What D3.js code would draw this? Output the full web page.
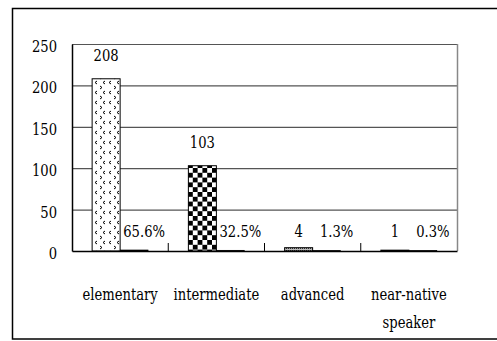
<!DOCTYPE html>
<html><head><meta charset="utf-8">
<script src="https://cdn.jsdelivr.net/npm/d3@7"></script>
<style>
html,body{margin:0;padding:0;background:#fff;}
</style></head>
<body><svg id="c" width="497" height="341"></svg>
<script>
const categories = ["elementary", "intermediate", "advanced", "near-native speaker"];
const counts = [208, 103, 4, 1];
const percents = [65.6, 32.5, 1.3, 0.3];
const yTicks = [0, 50, 100, 150, 200, 250];

const FONT = "'DejaVu Serif Condensed', 'DejaVu Serif', serif";
const FS = "17px";
const SX = 0.86;
const svg = d3.select("#c");
const W = 497, H = 341;
const m = {left: 72, top: 44, right: 457, bottom: 251};

// narrow serif text helper
function ntext(sel, xf, yf, anchor) {
  return sel.attr("transform", (d,i)=>`translate(${xf(d,i)},${yf(d,i)}) scale(${SX},1)`)
    .attr("text-anchor", anchor)
    .style("font-size", FS).style("font-family", FONT).attr("fill","#000");
}

const defs = svg.append("defs");
const p1 = defs.append("pattern").attr("id","chev").attr("patternUnits","userSpaceOnUse")
  .attr("width",14).attr("height",10).attr("x",92).attr("y",0);
p1.append("rect").attr("width",14).attr("height",10).attr("fill","#fff");
p1.append("path").attr("d","M5,1 L3,2.5 L5,4 M13,1 L11,2.5 L13,4").attr("stroke","#000").attr("stroke-width",1).attr("fill","none");
p1.append("path").attr("d","M8,6 L10,7.5 L8,9").attr("stroke","#000").attr("stroke-width",1).attr("fill","none");
const p2 = defs.append("pattern").attr("id","check").attr("patternUnits","userSpaceOnUse")
  .attr("width",9.6).attr("height",9.6).attr("x",188).attr("y",0);
p2.append("rect").attr("width",9.6).attr("height",9.6).attr("fill","#fff");
p2.append("rect").attr("width",4.8).attr("height",4.8).attr("fill","#000");
p2.append("rect").attr("x",4.8).attr("y",4.8).attr("width",4.8).attr("height",4.8).attr("fill","#000");
const p3 = defs.append("pattern").attr("id","dots").attr("patternUnits","userSpaceOnUse")
  .attr("width",2).attr("height",2);
p3.append("rect").attr("width",2).attr("height",2).attr("fill","#bbb");
p3.append("rect").attr("width",1).attr("height",1).attr("fill","#333");
const fills = ["url(#chev)","url(#check)","url(#dots)","url(#dots)"];

svg.append("rect").attr("x",12.5).attr("y",8.5).attr("width",W).attr("height",330.5)
  .attr("fill","none").attr("stroke","#000").attr("stroke-width",1.5);

const x = d3.scaleBand().domain(categories).range([m.left, m.right]).paddingInner(0).paddingOuter(0);
const y = d3.scaleLinear().domain([0,250]).range([m.bottom, m.top]);
const bw = 28;

svg.append("g").selectAll("line").data(yTicks.filter(d=>d>0)).join("line")
  .attr("x1",m.left).attr("x2",m.right).attr("y1",d=>y(d)+0.5).attr("y2",d=>y(d)+0.5)
  .attr("stroke","#555").attr("stroke-width",1.2);
svg.append("line").attr("x1",m.right+0.5).attr("x2",m.right+0.5).attr("y1",m.top).attr("y2",m.bottom)
  .attr("stroke","#888").attr("stroke-width",1.5);

const g = svg.append("g");
g.selectAll("rect.cnt").data(counts).join("rect").attr("class","cnt")
  .attr("x",(d,i)=>x(categories[i])+x.bandwidth()/2-bw)
  .attr("y",d=>y(d)).attr("width",bw).attr("height",d=>y(0)-y(d))
  .attr("fill",(d,i)=>fills[i]).attr("stroke","#000").attr("stroke-width",1);
g.selectAll("rect.pct").data(percents).join("rect").attr("class","pct")
  .attr("x",(d,i)=>x(categories[i])+x.bandwidth()/2)
  .attr("y",d=>y(d/100)-0.5).attr("width",bw).attr("height",d=>y(0)-y(d/100)+0.5)
  .attr("fill","#000").attr("stroke","#000").attr("stroke-width",0.5);

ntext(g.selectAll("text.cl").data(counts).join("text").attr("class","cl"),
  (d,i)=>x(categories[i])+x.bandwidth()/2-bw/2,
  d=>(y(0)-y(d) < 20) ? 237 : y(d)-18, "middle").text(d=>d);
ntext(g.selectAll("text.pl").data(percents).join("text").attr("class","pl"),
  (d,i)=>x(categories[i])+x.bandwidth()/2+bw/2+10,
  ()=>237, "middle").text(d=>d.toFixed(1)+"%");

// y axis
const ya = svg.append("g").attr("transform",`translate(${m.left},0)`)
  .call(d3.axisLeft(y).tickValues(yTicks).tickSize(0).tickFormat(""));
ya.select(".domain").attr("stroke","#000").attr("stroke-width",1.5);
ntext(svg.append("g").selectAll("text").data(yTicks).join("text"),
  ()=>57, d=>y(d)+8, "end").text(d=>d);

const xa = svg.append("g").attr("transform",`translate(0,${m.bottom})`)
  .call(d3.axisBottom(x).tickSize(0).tickFormat(""));
xa.select(".domain").attr("stroke","#000").attr("stroke-width",1.5);
svg.append("g").selectAll("line").data(categories.slice(1)).join("line")
  .attr("x1",d=>x(d)).attr("x2",d=>x(d)).attr("y1",m.bottom).attr("y2",m.bottom-8)
  .attr("stroke","#000").attr("stroke-width",1);

const cl = ntext(svg.append("g").selectAll("text").data(categories).join("text"),
  d=>x(d)+x.bandwidth()/2, ()=>300, "middle");
cl.each(function(d){
  const t = d3.select(this);
  const parts = d==="near-native speaker" ? ["near-native","speaker"] : [d];
  parts.forEach((p,k)=>t.append("tspan").attr("x",0).attr("dy",k?28:0).text(p));
});
</script></body></html>
